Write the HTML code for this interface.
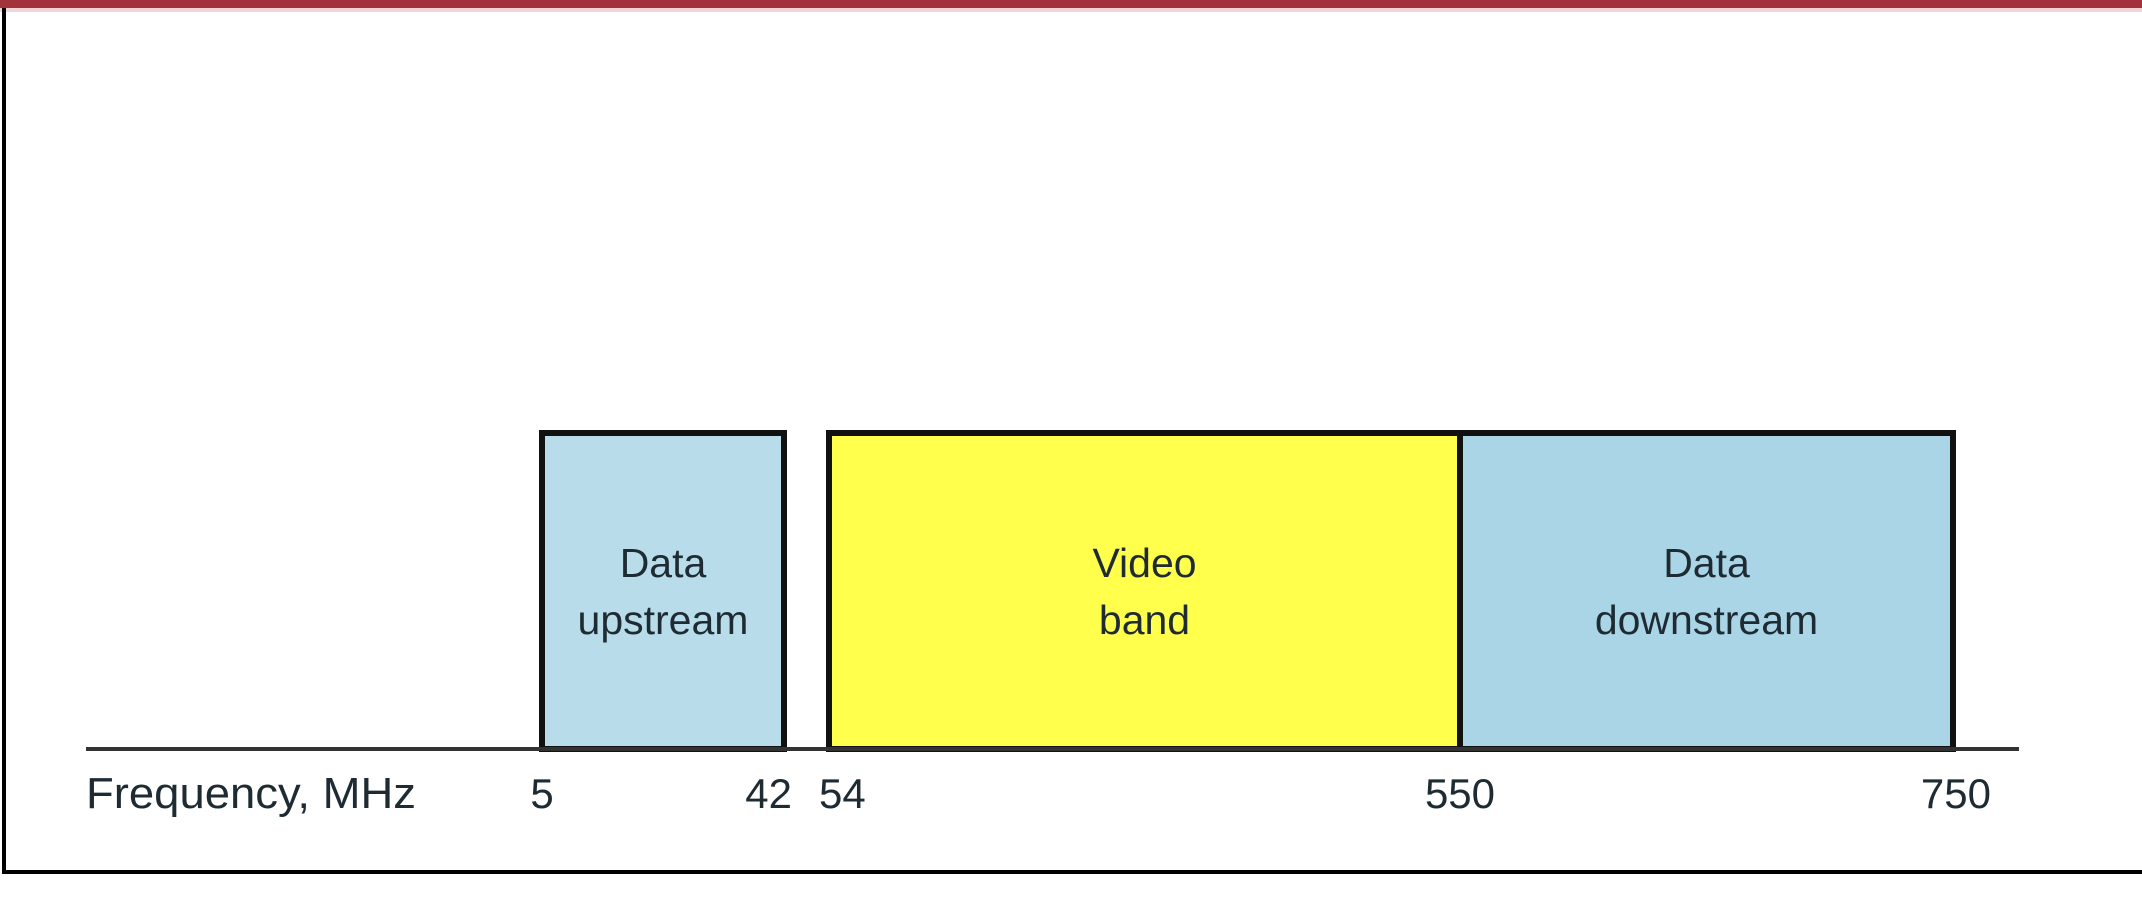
<!DOCTYPE html>
<html><head><meta charset="utf-8"><style>
html,body{margin:0;padding:0;background:#fff;width:2142px;height:898px;overflow:hidden}
svg{display:block}
text{font-family:"Liberation Sans",sans-serif;fill:#1e2b33}
</style></head><body>
<svg id="chart" width="2142" height="898" viewBox="0 0 2142 898">
<rect x="0" y="0" width="2142" height="8" fill="#a3333a"/>
<rect x="0" y="8" width="2142" height="4" fill="#f3d5d8"/>
<rect x="2" y="8" width="4" height="866" fill="#000"/>
<rect x="2" y="870" width="2140" height="4" fill="#000"/>
<g id="bands"></g>
<line x1="86" y1="749" x2="2019" y2="749" stroke="#333" stroke-width="4"/>
<text x="86" y="808" font-size="44" textLength="330" lengthAdjust="spacingAndGlyphs">Frequency, MHz</text>
<g id="ticks"></g>
</svg>
<script>
const bandStarts = [5, 54, 550];
const bandEnds = [42, 550, 750];
const bandLines1 = ["Data", "Video", "Data"];
const bandLines2 = ["upstream", "band", "downstream"];
const bandNames = ["data-upstream-band", "video-band", "data-downstream-band"];
const bandColors = ["#b8dcea", "#ffff4c", "#aad5e6"];
const tickValues = [5, 42, 54, 550, 750];
const tickLabels = ["5", "42", "54", "550", "750"];
const tickAnchors = ["middle", "end", "start", "middle", "end"];

const domainBreaks = [5, 42, 54, 550, 750];
const rangeBreaks = [542, 784, 829, 1460, 1953];
function xScale(v){
  for(let i=0;i<domainBreaks.length-1;i++){
    if(v<=domainBreaks[i+1]||i===domainBreaks.length-2){
      const t=(v-domainBreaks[i])/(domainBreaks[i+1]-domainBreaks[i]);
      return rangeBreaks[i]+t*(rangeBreaks[i+1]-rangeBreaks[i]);
    }
  }
}
const yTop=433, yBase=749;
const NS="http://www.w3.org/2000/svg";
const bands=document.getElementById('bands');
for(let i=0;i<bandStarts.length;i++){
  const x0=xScale(bandStarts[i]), x1=xScale(bandEnds[i]);
  const r=document.createElementNS(NS,'rect');
  r.setAttribute('x',x0);r.setAttribute('y',yTop);
  r.setAttribute('width',x1-x0);r.setAttribute('height',yBase-yTop);
  r.setAttribute('fill',bandColors[i]);r.setAttribute('stroke','#111');r.setAttribute('stroke-width','6');
  
  
  bands.appendChild(r);
  const cx=(x0+x1)/2;
  [bandLines1[i],bandLines2[i]].forEach((s,j)=>{
    const t=document.createElementNS(NS,'text');
    t.setAttribute('x',cx);t.setAttribute('y',577+j*57);
    t.setAttribute('text-anchor','middle');t.setAttribute('font-size','41');
    t.textContent=s;
    
    
    bands.appendChild(t);
  });
}
const ticks=document.getElementById('ticks');
for(let i=0;i<tickValues.length;i++){
  const t=document.createElementNS(NS,'text');
  const off = tickAnchors[i]==='end' ? (i===4?38:8) : (tickAnchors[i]==='start'?-10:0);
  t.setAttribute('x',xScale(tickValues[i])+off);
  t.setAttribute('y',808);
  t.setAttribute('text-anchor',tickAnchors[i]);
  t.setAttribute('font-size','42');
  t.textContent=tickLabels[i];
  
  
  ticks.appendChild(t);
}
</script>
</body></html>
